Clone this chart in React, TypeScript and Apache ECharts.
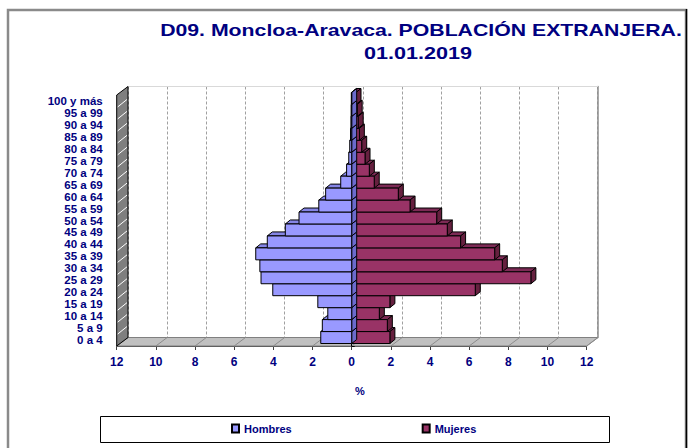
import React, { useEffect, useRef } from "react";
import * as echarts from "echarts";

const categories = [
  "0 a 4", "5 a 9", "10 a 14", "15 a 19", "20 a 24", "25 a 29", "30 a 34",
  "35 a 39", "40 a 44", "45 a 49", "50 a 54", "55 a 59", "60 a 64", "65 a 69",
  "70 a 74", "75 a 79", "80 a 84", "85 a 89", "90 a 94", "95 a 99", "100 y más",
];
const hombres = [1.58, 1.5, 1.22, 1.73, 4.03, 4.63, 4.69, 4.9, 4.31, 3.39, 2.69, 1.68, 1.33, 0.56, 0.26, 0.15, 0.1, 0.06, 0.04, 0.03, 0.02];
const mujeres = [1.95, 1.82, 1.41, 1.95, 6.31, 9.15, 7.69, 7.3, 5.56, 4.88, 4.34, 2.98, 2.38, 1.15, 0.9, 0.68, 0.51, 0.39, 0.33, 0.28, 0.22];
const xTicks = [-12, -10, -8, -6, -4, -2, 0, 2, 4, 6, 8, 10, 12];
const titleLines = ["D09. Moncloa-Aravaca. POBLACIÓN EXTRANJERA.", "01.01.2019"];
const seriesNames = ["Hombres", "Mujeres"];
const axisName = "%";

const NAVY = "#000080";
const FONT = "'Liberation Sans', Arial, sans-serif";
const WALL_DX = 11.3;
const WALL_DY = -8.5;
const BAR_DX = 5;
const BAR_DY = -4;
const BAR_SHIFT_Y = -2.5;

function barRenderer(front: string, top: string, side: string) {
  return (params: any, api: any) => {
    const v = api.value(0);
    const c = api.value(1);
    const p0 = api.coord([0, c]);
    const p1 = api.coord([v, c]);
    const h = api.size([0, 1])[1];
    const yc = p0[1] + BAR_SHIFT_Y;
    const yt = yc - h / 2;
    const yb = yc + h / 2;
    const xl = Math.min(p0[0], p1[0]);
    const xr = Math.max(p0[0], p1[0]);
    const st = { stroke: "#000", lineWidth: 1 };
    return {
      type: "group",
      children: [
        {
          type: "polygon",
          shape: { points: [[xl, yt], [xr, yt], [xr + BAR_DX, yt + BAR_DY], [xl + BAR_DX, yt + BAR_DY]] },
          style: { fill: top, ...st },
        },
        {
          type: "polygon",
          shape: { points: [[xr, yt], [xr + BAR_DX, yt + BAR_DY], [xr + BAR_DX, yb + BAR_DY], [xr, yb]] },
          style: { fill: side, ...st },
        },
        {
          type: "rect",
          shape: { x: xl, y: yt, width: xr - xl, height: h },
          style: { fill: front, ...st },
        },
      ],
    };
  };
}

function decorRenderer(params: any, api: any) {
  const cs = params.coordSys;
  const yF = cs.y + cs.height;
  const children: any[] = [];
  children.push({
    type: "polygon",
    shape: { points: [[cs.x, yF], [cs.x + cs.width, yF], [cs.x + cs.width + WALL_DX, yF + WALL_DY], [cs.x + WALL_DX, yF + WALL_DY]] },
    style: { fill: "#c0c0c0", stroke: "#808080", lineWidth: 1 },
  });
  xTicks.forEach((t) => {
    const x = api.coord([t, 0])[0];
    children.push({
      type: "line",
      shape: { x1: x, y1: yF, x2: x + WALL_DX, y2: yF + WALL_DY },
      style: { stroke: "#8c8c8c", lineWidth: 1 },
    });
  });
  children.push({
    type: "polygon",
    shape: { points: [[cs.x, cs.y], [cs.x, yF], [cs.x + WALL_DX, yF + WALL_DY], [cs.x + WALL_DX, cs.y + WALL_DY]] },
    style: { fill: "#7f7f7f", stroke: "#000", lineWidth: 1 },
  });
  const n = categories.length;
  for (let k = 1; k < n; k++) {
    const y = cs.y + (k * cs.height) / n;
    children.push({
      type: "line",
      shape: { x1: cs.x + 1, y1: y, x2: cs.x + WALL_DX - 1, y2: y + WALL_DY + 1 },
      style: { stroke: "#ffffff", lineWidth: 1 },
    });
  }
  return { type: "group", children };
}

export default function App() {
  const ref = useRef<HTMLDivElement>(null);
  useEffect(() => {
    document.body.style.margin = "0";
    if (!ref.current) return;
    const chart = echarts.init(ref.current, undefined, { renderer: "svg" });
    const labelFont = { fontFamily: FONT, fontWeight: "bold" as const, color: NAVY };
    chart.setOption({
      animation: false,
      backgroundColor: "#fff",
      grid: [
        { left: 116.7, right: 107.3, top: 95, bottom: 102 },
        { left: 128, right: 96.3, top: 86.5, bottom: 110.5 },
      ],
      xAxis: [
        {
          type: "value", gridIndex: 0, min: -12, max: 12, interval: 2,
          axisLine: { show: true, onZero: false, lineStyle: { color: "#404040" } },
          axisTick: { show: true, length: 4, lineStyle: { color: "#404040" } },
          axisLabel: { ...labelFont, fontSize: 12, margin: 10, formatter: (v: number) => String(Math.abs(v)) },
          splitLine: { show: false },
        },
        {
          type: "value", gridIndex: 1, min: -12, max: 12, interval: 2, position: "top",
          axisLine: { show: true, onZero: false, lineStyle: { color: "#d9d9d9" } },
          axisTick: { show: false },
          axisLabel: { show: false },
          splitLine: { show: true, lineStyle: { type: [3, 2], color: "#a0a0a0" } },
        },
      ],
      yAxis: [
        {
          type: "category", gridIndex: 0, data: categories,
          axisLine: { show: false, onZero: false },
          axisTick: { show: false },
          axisLabel: { ...labelFont, fontSize: 11.5, lineHeight: 11, margin: 14, interval: 0 },
        },
        {
          type: "category", gridIndex: 0, data: categories, z: 2,
          axisLine: { show: true, onZero: true, lineStyle: { color: "#000" } },
          axisTick: { show: true, length: 3, interval: 0, lineStyle: { color: "#000" } },
          axisLabel: { show: false },
        },
        {
          type: "value", gridIndex: 1, min: 0, max: 1, position: "right",
          axisLine: { show: true, onZero: false, lineStyle: { color: "#8c8c8c", width: 1.5 } },
          axisTick: { show: false },
          axisLabel: { show: false },
          splitLine: { show: false },
        },
      ],
      legend: {
        data: seriesNames,
        top: 423,
        left: 231,
        padding: 0,
        itemGap: 130,
        itemWidth: 7,
        itemHeight: 8,
        icon: "rect",
        textStyle: { ...labelFont, fontSize: 11 },
      },
      graphic: [
        {
          type: "rect",
          shape: { x: 8, y: 10, width: 678, height: 460 },
          style: { fill: "none", stroke: "#8a8a8a", lineWidth: 2.5 },
          z: 0,
        },
        {
          type: "line",
          shape: { x1: 686.5, y1: 9, x2: 686.5, y2: 448 },
          style: { stroke: "#000", lineWidth: 1.5 },
        },
        {
          type: "rect",
          shape: { x: 100.5, y: 416.5, width: 509, height: 26 },
          style: { fill: "none", stroke: "#000", lineWidth: 1 },
        },
        {
          type: "text", x: 421, y: 30, scaleX: 1.25,
          style: { text: titleLines[0], fontFamily: FONT, fontWeight: "bold", fontSize: 17, fill: NAVY, textAlign: "center", textVerticalAlign: "middle" },
        },
        {
          type: "text", x: 418, y: 53, scaleX: 1.27,
          style: { text: titleLines[1], fontFamily: FONT, fontWeight: "bold", fontSize: 17, fill: NAVY, textAlign: "center", textVerticalAlign: "middle" },
        },
        {
          type: "text", x: 360, y: 391,
          style: { text: axisName, fontFamily: FONT, fontWeight: "bold", fontSize: 11, fill: NAVY, textAlign: "center", textVerticalAlign: "middle" },
        },
      ],
      series: [
        {
          type: "custom", name: "decor", xAxisIndex: 0, yAxisIndex: 0, z: 1, silent: true, clip: false,
          data: [[0, 0]], renderItem: decorRenderer,
        },
        {
          type: "custom", name: seriesNames[1], xAxisIndex: 0, yAxisIndex: 0, z: 3, clip: false,
          itemStyle: { color: "#993366", borderColor: "#000", borderWidth: 1 },
          encode: { x: 0, y: 1 },
          data: mujeres.map((v, i) => [v, i]),
          renderItem: barRenderer("#993366", "#7d2a55", "#66203f"),
        },
        {
          type: "custom", name: seriesNames[0], xAxisIndex: 0, yAxisIndex: 0, z: 3, clip: false,
          itemStyle: { color: "#9999ff", borderColor: "#000", borderWidth: 1 },
          encode: { x: 0, y: 1 },
          data: hombres.map((v, i) => [-v, i]),
          renderItem: barRenderer("#9999ff", "#8585e6", "#6b6bcc"),
        },
      ],
    });
    return () => chart.dispose();
  }, []);
  return <div ref={ref} style={{ width: 694, height: 448 }} />;
}
